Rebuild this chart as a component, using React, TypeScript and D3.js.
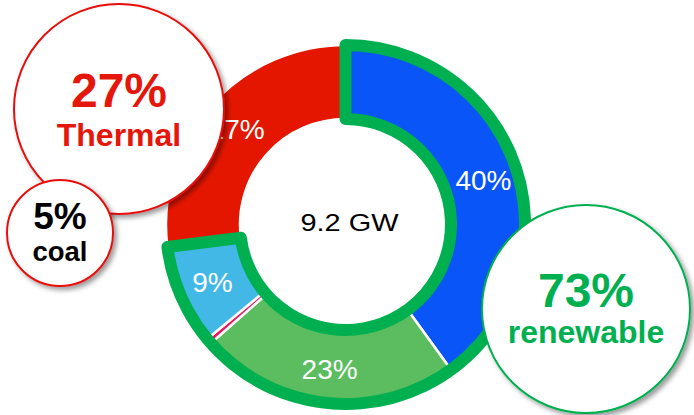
import React from "react";
import * as d3 from "d3";

const categories = ["Hydro", "Solar", "Other", "Wind", "Thermal"];
const values = [40, 23.5, 0.5, 9, 27];
const sliceLabels = ["40%", "23%", "", "9%", "27%"];
const colors = ["#0a55f7", "#5bbd5f", "#e8185a", "#42b8e6", "#e51600"];
const renewableCount = 4;
const totalLabel = "9.2 GW";

const callouts = [
  { pct: "27%", name: "Thermal", stroke: "#e8100a", textColor: "#e5160a", cx: 119, cy: 109, r: 105, big: 48, small: 32, dyBig: -2, dySmall: 37 },
  { pct: "5%", name: "coal", stroke: "#e8100a", textColor: "#000", cx: 60, cy: 233, r: 53, big: 37, small: 27.5, dyBig: -4, dySmall: 28 },
  { pct: "73%", name: "renewable", stroke: "#00b050", textColor: "#00b050", cx: 586, cy: 309, r: 104, big: 48, small: 32, dyBig: -2, dySmall: 34 },
];

export default function App() {
  const W = 694, H = 415;
  const cx = 345.5, cy = 224.5;
  const R = 179.5, r0 = 105.5;

  const pie = d3.pie<number>().sort(null).value((d) => d);
  const arcs = pie(values);
  const arc = d3.arc<d3.PieArcDatum<number>>().innerRadius(r0).outerRadius(R);
  const labelArc = d3.arc<d3.PieArcDatum<number>>().innerRadius(145).outerRadius(145);

  const outlineArc = d3.arc()({
    innerRadius: r0,
    outerRadius: R,
    startAngle: arcs[0].startAngle,
    endAngle: arcs[renewableCount - 1].endAngle,
  } as any) as string;

  return (
    <svg width={W} height={H} style={{ position: "absolute", left: 0, top: 0, fontFamily: "Liberation Sans, Arial, sans-serif" }}>
      <defs>
        <filter id="shadow" x="-20%" y="-20%" width="150%" height="150%">
          <feDropShadow dx="3" dy="3" stdDeviation="2.5" floodColor="#000" floodOpacity="0.4" />
        </filter>
      </defs>
      <g transform={`translate(${cx},${cy})`}>
        {arcs.map((a, i) => (
          <path key={categories[i]} d={arc(a) as string} fill={colors[i]} stroke="#fff" strokeWidth={2.5} />
        ))}
        {arcs.map((a, i) => {
          const [x, y] = labelArc.centroid(a);
          return sliceLabels[i] ? (
            <text key={"l" + i} x={x} y={y} dy="0.36em" textAnchor="middle" fill="#fff" fontSize={28}>
              {sliceLabels[i]}
            </text>
          ) : null;
        })}
        <path d={outlineArc} fill="none" stroke="#00b050" strokeWidth={12} strokeLinejoin="round" />
        <text x={4} y={-2} dy="0.36em" textAnchor="middle" fontSize={24} fill="#000" textLength={98} lengthAdjust="spacingAndGlyphs">
          {totalLabel}
        </text>
      </g>
      {callouts.map((c) => (
        <g key={c.name}>
          <circle cx={c.cx} cy={c.cy} r={c.r} fill="#fff" stroke={c.stroke} strokeWidth={2} filter="url(#shadow)" />
          <text x={c.cx} y={c.cy + c.dyBig} textAnchor="middle" fontWeight="bold" fontSize={c.big} fill={c.textColor}>
            {c.pct}
          </text>
          <text x={c.cx} y={c.cy + c.dySmall} textAnchor="middle" fontWeight="bold" fontSize={c.small} fill={c.textColor}>
            {c.name}
          </text>
        </g>
      ))}
    </svg>
  );
}
